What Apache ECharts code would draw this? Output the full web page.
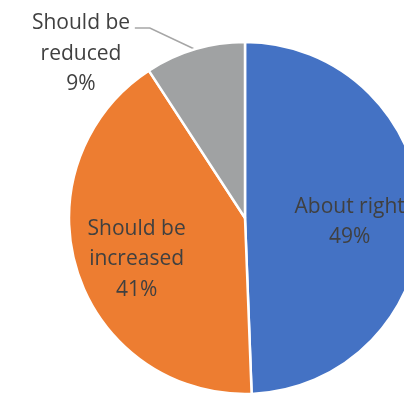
<!DOCTYPE html>
<html>
<head>
<meta charset="utf-8">
<script src="https://cdn.jsdelivr.net/npm/echarts@6/dist/echarts.min.js"></script>
<style>
  html, body { margin: 0; padding: 0; background: #fff; }
  #chart { width: 404px; height: 394px; }
</style>
</head>
<body>
<div id="chart"></div>
<script>
// 数据
var categories = ['About right', 'Should be increased', 'Should be reduced'];
var labelNames = ['About right', 'Should be\nincreased', 'Should be\nreduced'];
var shares = [49.4, 41.4, 9.2];
var colors = ['#4472C4', '#ED7D31', '#A0A2A3'];

var cx = 245, cy = 218, radius = 176;

var chart = echarts.init(document.getElementById('chart'));

var seriesData = [];
for (var i = 0; i < categories.length; i++) {
  seriesData.push({
    name: categories[i],
    value: shares[i],
    itemStyle: { color: colors[i] },
    label: { position: i === 2 ? 'outside' : 'inside' }
  });
}

chart.setOption({
  backgroundColor: '#fff',
  animation: false,
  series: [{
    type: 'pie',
    center: [cx, cy],
    radius: radius,
    startAngle: 90,
    clockwise: true,
    data: seriesData,
    itemStyle: { borderColor: '#fff', borderWidth: 2.5 },
    label: {
      show: true,
      color: '#404040',
      fontFamily: 'Open Sans',
      fontSize: 21,
      lineHeight: 30.5,
      align: 'center',
      formatter: function (p) {
        return labelNames[p.dataIndex] + '\n' + Math.round(p.value) + '%';
      }
    },
    labelLine: {
      show: true,
      lineStyle: { color: '#a6a6a6', width: 1.5 }
    },
    // 标签位置
    labelLayout: function (params) {
      var r = params.labelRect;
      if (params.dataIndex === 2) {
        var a = params.labelLinePoints[0];
        return {
          x: 81, y: 54, align: 'center', verticalAlign: 'middle',
          labelLinePoints: [[a[0], a[1]], [a[0] - 45, 28], [a[0] - 60, 28]]
        };
      }
      var mx = r.x + r.width / 2, my = r.y + r.height / 2;
      var k = params.dataIndex === 0 ? 0.15 : 0.25;
      var extra = params.dataIndex === 0 ? 6 : 7;
      return { dx: (mx - cx) * k, dy: (my - cy) * k + extra };
    }
  }]
});
</script>
</body>
</html>
